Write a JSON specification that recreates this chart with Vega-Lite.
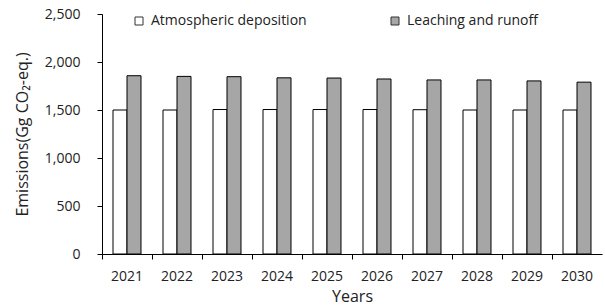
{
  "$schema": "https://vega.github.io/schema/vega-lite/v6.json",
  "width": 500,
  "height": 240,
  "autosize": {"type": "none"},
  "padding": {"left": 102, "top": 14, "right": 3, "bottom": 53},
  "background": "white",
  "config": {
    "font": "Open Sans",
    "view": {"stroke": null},
    "axis": {"grid": false, "domainColor": "black", "tickColor": "black", "labelColor": "#222", "titleColor": "#222", "labelFontSize": 14, "titleFontSize": 16, "titleFontWeight": "normal"}
  },
  "data": {
    "values": [
      {"year": "2021", "series": "Atmospheric deposition", "value": 1500},
      {"year": "2021", "series": "Leaching and runoff", "value": 1857},
      {"year": "2022", "series": "Atmospheric deposition", "value": 1500},
      {"year": "2022", "series": "Leaching and runoff", "value": 1850},
      {"year": "2023", "series": "Atmospheric deposition", "value": 1505},
      {"year": "2023", "series": "Leaching and runoff", "value": 1847},
      {"year": "2024", "series": "Atmospheric deposition", "value": 1505},
      {"year": "2024", "series": "Leaching and runoff", "value": 1835},
      {"year": "2025", "series": "Atmospheric deposition", "value": 1505},
      {"year": "2025", "series": "Leaching and runoff", "value": 1833},
      {"year": "2026", "series": "Atmospheric deposition", "value": 1505},
      {"year": "2026", "series": "Leaching and runoff", "value": 1823},
      {"year": "2027", "series": "Atmospheric deposition", "value": 1503},
      {"year": "2027", "series": "Leaching and runoff", "value": 1813},
      {"year": "2028", "series": "Atmospheric deposition", "value": 1500},
      {"year": "2028", "series": "Leaching and runoff", "value": 1813},
      {"year": "2029", "series": "Atmospheric deposition", "value": 1500},
      {"year": "2029", "series": "Leaching and runoff", "value": 1803},
      {"year": "2030", "series": "Atmospheric deposition", "value": 1500},
      {"year": "2030", "series": "Leaching and runoff", "value": 1790}
    ]
  },
  "mark": {"type": "bar", "stroke": "black", "strokeWidth": 1},
  "encoding": {
    "x": {
      "field": "year", "type": "nominal", "title": "Years",
      "scale": {"paddingInner": 0, "paddingOuter": 0},
      "axis": {"labelAngle": 0, "bandPosition": 0, "tickSize": 5, "labelPadding": 10, "titlePadding": 5, "labelBound": false}
    },
    "xOffset": {
      "field": "series", "type": "nominal",
      "scale": {"paddingInner": 0, "paddingOuter": 0.786}
    },
    "y": {
      "field": "value", "type": "quantitative", "title": "Emissions(Gg CO₂-eq.)",
      "scale": {"domain": [0, 2500]},
      "axis": {"values": [0, 500, 1000, 1500, 2000, 2500], "format": ",.0f", "tickSize": 5, "labelPadding": 17, "titlePadding": 14}
    },
    "color": {
      "field": "series", "type": "nominal",
      "scale": {"domain": ["Atmospheric deposition", "Leaching and runoff"], "range": ["#ffffff", "#a6a6a6"]},
      "legend": {
        "title": null, "orient": "none", "legendX": 30, "legendY": 0, "direction": "horizontal",
        "symbolType": "square", "symbolSize": 64, "symbolStrokeColor": "#333", "symbolStrokeWidth": 1,
        "labelFontSize": 14, "labelColor": "#222", "labelOffset": 5, "columnPadding": 81
      }
    }
  }
}
